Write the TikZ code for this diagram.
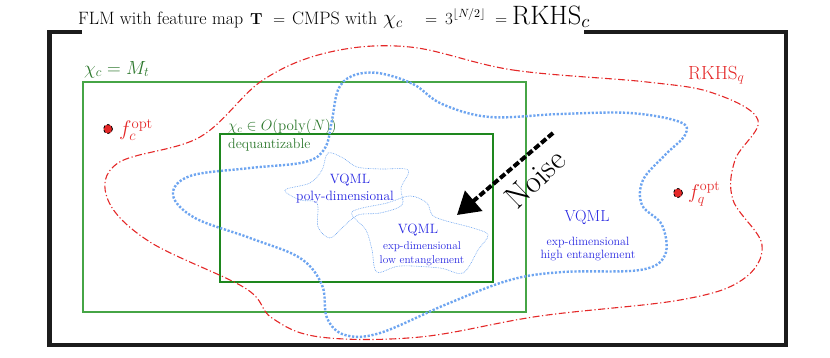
\RequirePackage{fix-cm}
\documentclass[tikz,border=0pt]{standalone}
\usepackage{amsmath}
\usepackage{graphicx}
\usetikzlibrary{arrows.meta}
\definecolor{framecol}{RGB}{28,28,28}
\definecolor{gOuter}{RGB}{70,165,70}
\definecolor{gInner}{RGB}{30,135,30}
\definecolor{gText}{RGB}{45,120,45}
\definecolor{rcol}{RGB}{228,40,40}
\definecolor{bcurve}{RGB}{110,165,240}
\definecolor{btext}{RGB}{40,40,225}
\newcommand{\myfs}[1]{\fontsize{#1}{#1}\selectfont}
\tikzset{
  frameline/.style={line width=4.5pt, draw=framecol, line join=miter},
  outerbox/.style={draw=gOuter, line width=1.3pt},
  innerbox/.style={draw=gInner, line width=2pt},
  rkhsq/.style={draw=rcol, line width=1.1pt, dash pattern=on 7pt off 2.5pt on 1.2pt off 2.5pt},
  bthick/.style={draw=bcurve, line width=2.4pt, dash pattern=on 2.2pt off 1.7pt},
  bthin/.style={draw=bcurve, line width=0.6pt, dash pattern=on 0.8pt off 0.9pt},
  optdot/.style={circle, fill=rcol, draw=black, densely dashed, line width=0.8pt, minimum size=9pt, inner sep=0pt},
  gtxt/.style={text=gText, inner sep=0pt},
  rtxt/.style={text=rcol, inner sep=0pt},
  btxt/.style={text=btext, inner sep=0pt},
  noisearrow/.style={line width=4pt, dash pattern=on 6.5pt off 2.5pt, -{Triangle[length=22pt,width=26pt]}}
}
\begin{document}
\begin{tikzpicture}[x=1pt,y=-1pt]
\useasboundingbox (0,0) rectangle (830,357);
% outer frame
\draw[frameline] (82,32) -- (49.5,32) -- (49.5,345) -- (786,345) -- (786,32) -- (584,32);
% title
\node[anchor=base west, inner sep=0pt] (title) at (78,24)
  {\myfs{16}\makebox[172pt][l]{\resizebox{165pt}{!}{FLM with feature map}}\makebox[23pt][l]{$\mathbf{T}$}\makebox[19pt][l]{$=$}\makebox[91pt][l]{\resizebox{85pt}{!}{CMPS with}}\makebox[42pt][l]{\myfs{21}$\chi_c$}\makebox[20pt][l]{$=$}\makebox[50pt][l]{\myfs{17}$3^{\lfloor N/2\rfloor}$}\makebox[17pt][l]{$=$}\resizebox{78pt}{!}{RKHS$_c$}};
% green boxes
\draw[outerbox] (83,82) rectangle (526,312);
\draw[innerbox] (220,134) rectangle (493,282);
\node[gtxt, anchor=base west] (mt) at (84,74) {\myfs{19}$\chi_c = M_t$};
\node[gtxt, anchor=base west] (poly) at (228,130) {\myfs{15}$\chi_c \in O(\mathrm{poly}(N))$};
\node[gtxt, anchor=base west] (deq) at (228,148) {\myfs{14}dequantizable};
% red RKHS_q curve
\draw[rkhsq] plot[smooth cycle, tension=0.6] coordinates {
 (410,47) (513,70) (647,82) (713,93) (758,120) (735,160) (733,200) (762,245) (742,280) (680,300)
 (540,316) (420,337) (320,337) (272,318) (245,288) (150,242) (108,200) (118,163) (200,137) (263,80) (330,52)};
% blue thick curve
\draw[bthick] plot[smooth cycle, tension=0.6] coordinates {
 (378,73) (413,84) (442,104) (490,117) (560,114) (630,113) (680,122) (685,135) (665,155) (643,180)
 (642,205) (662,225) (665,255) (640,270) (563,272) (510,280) (447,304) (380,333) (345,335)
 (327,318) (322,285) (300,258) (250,238) (195,218) (173,195) (190,176) (250,168) (305,162)
 (325,148) (332,120) (338,90) (352,76)};
% thin starfish 1
\draw[bthin] plot[smooth cycle, tension=0.55] coordinates {
 (322,170) (328,153) (343,158) (357,167) (380,169) (408,170) (401,188) (402,205)
 (380,213) (358,215) (343,227) (330,238) (318,227) (317,203) (300,200) (285,190) (310,183)};
% thin starfish 2
\draw[bthin] plot[smooth cycle, tension=0.55] coordinates {
 (352,212) (387,203) (410,196) (427,203) (435,217) (473,228) (488,235) (478,250)
 (463,273) (440,268) (400,266) (377,272) (372,250) (366,230)};
% dots
\node[optdot] (fcdot) at (108,129) {};
\node[rtxt, anchor=west] (fc) at (119,130) {\myfs{21}$f_c^{\mathrm{opt}}$};
\node[optdot] (fqdot) at (678,193) {};
\node[rtxt, anchor=west] (fq) at (688,194) {\myfs{20}$f_q^{\mathrm{opt}}$};
\node[rtxt, anchor=base west] (rq) at (688,79) {\myfs{19}RKHS$_q$};
% blue texts
\node[btxt] (v1) at (350,180) {\myfs{13.5}VQML};
\node[btxt] (v1b) at (345,197) {\myfs{13.5}poly-dimensional};
\node[btxt] (v2) at (418,230) {\myfs{13.5}VQML};
\node[btxt] (v2b) at (422,247) {\myfs{11.3}exp-dimensional};
\node[btxt] (v2c) at (422,261) {\myfs{11.3}low entanglement};
\node[btxt] (v3) at (587,217) {\myfs{16}VQML};
\node[btxt] (v3b) at (588,242) {\myfs{12}exp-dimensional};
\node[btxt] (v3c) at (588,256) {\myfs{12}high entanglement};
% noise arrow
\coordinate (ns) at (553,133);
\coordinate (ne) at (457,215);
\draw[noisearrow] (ns) -- (ne);
\node[rotate=44, inner sep=0pt] (noise) at (535,179) {\myfs{32}Noise};
\end{tikzpicture}
\end{document}
